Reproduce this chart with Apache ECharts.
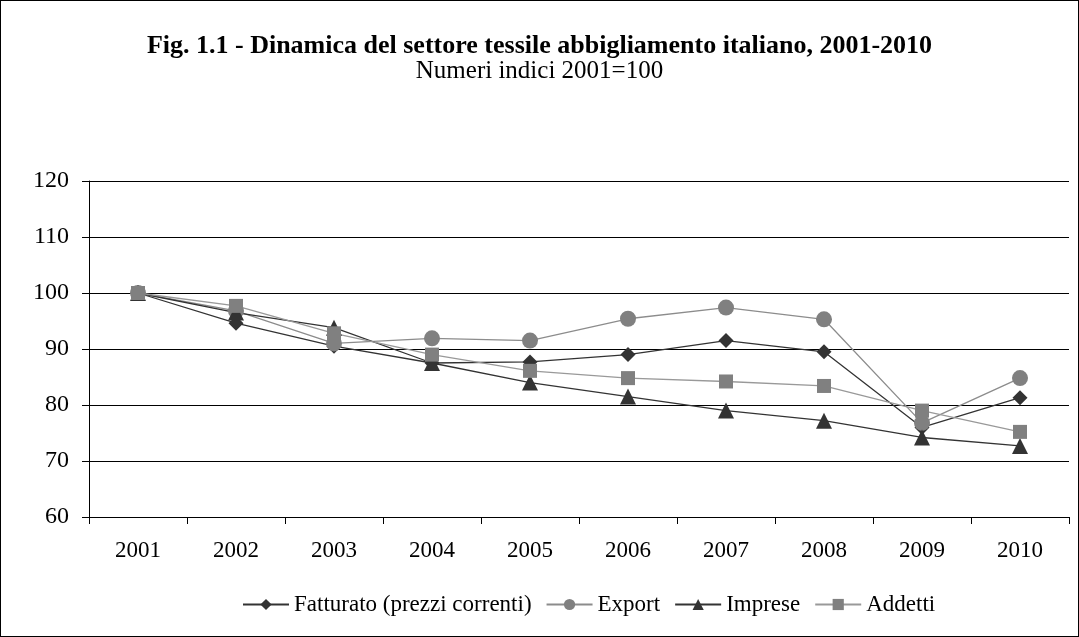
<!DOCTYPE html>
<html>
<head>
<meta charset="utf-8">
<script src="https://cdn.jsdelivr.net/npm/echarts@6/dist/echarts.min.js"></script>
<style>
  html, body { margin: 0; padding: 0; background: #fff; }
  #chart { width: 1079px; height: 637px; box-sizing: border-box; border: 1px solid #000; }
</style>
</head>
<body>
<div id="chart"></div>
<script>
const anni = ['2001','2002','2003','2004','2005','2006','2007','2008','2009','2010'];
const fatturato = [100, 94.6, 90.5, 87.5, 87.7, 89.0, 91.5, 89.5, 76.0, 81.3];
const exportVal = [100, 96.8, 91.0, 91.9, 91.5, 95.4, 97.4, 95.3, 76.8, 84.8];
const imprese   = [100, 96.5, 93.8, 87.5, 84.0, 81.5, 79.0, 77.2, 74.2, 72.7];
const addetti   = [100, 97.7, 92.8, 89.0, 86.1, 84.8, 84.2, 83.4, 79.0, 75.2];

const chart = echarts.init(document.getElementById('chart'));
const serif = '"Liberation Serif", "Times New Roman", serif';

function serie(name, data, symbol, markerColor, lineColor, size) {
  return {
    name: name,
    type: 'line',
    data: data,
    symbol: symbol,
    symbolSize: size,
    showAllSymbol: true,
    itemStyle: { color: markerColor },
    lineStyle: { color: lineColor, width: 1.3 },
    emphasis: { disabled: true }
  };
}

chart.setOption({
  animation: false,
  title: {
    text: 'Fig. 1.1 - Dinamica del settore tessile abbigliamento italiano, 2001-2010',
    subtext: 'Numeri indici 2001=100',
    left: 'center',
    top: 27,
    itemGap: 0,
    textStyle: { fontFamily: serif, fontSize: 26, fontWeight: 'bold', color: '#000' },
    subtextStyle: { fontFamily: serif, fontSize: 25, color: '#000' }
  },
  legend: {
    bottom: 15,
    left: 236,
    itemWidth: 46,
    itemHeight: 14,
    itemGap: 14,
    textStyle: { fontFamily: serif, fontSize: 23, color: '#000' },
    data: ['Fatturato (prezzi correnti)', 'Export', 'Imprese', 'Addetti']
  },
  grid: { left: 88, right: 9, top: 180, bottom: 119 },
  xAxis: {
    type: 'category',
    data: anni,
    boundaryGap: true,
    axisLine: { lineStyle: { color: '#000', width: 1 } },
    axisTick: { show: true, length: 7, lineStyle: { color: '#000' } },
    axisLabel: { fontFamily: serif, fontSize: 23, color: '#000', margin: 22 }
  },
  yAxis: {
    type: 'value',
    min: 60,
    max: 120,
    interval: 10,
    axisLine: { show: true, lineStyle: { color: '#000', width: 1 } },
    axisTick: { show: true, length: 7, lineStyle: { color: '#000' } },
    axisLabel: { fontFamily: serif, fontSize: 24, color: '#000', margin: 20 },
    splitLine: { lineStyle: { color: '#000', width: 1 } }
  },
  series: [
    serie('Fatturato (prezzi correnti)', fatturato, 'diamond', '#333333', '#333333', 15),
    serie('Export', exportVal, 'circle', '#808080', '#8c8c8c', 16),
    serie('Imprese', imprese, 'triangle', '#333333', '#333333', 16),
    serie('Addetti', addetti, 'rect', '#808080', '#999999', 14)
  ]
});

window.addEventListener('resize', function () {
  chart.resize();
});
</script>
</body>
</html>
